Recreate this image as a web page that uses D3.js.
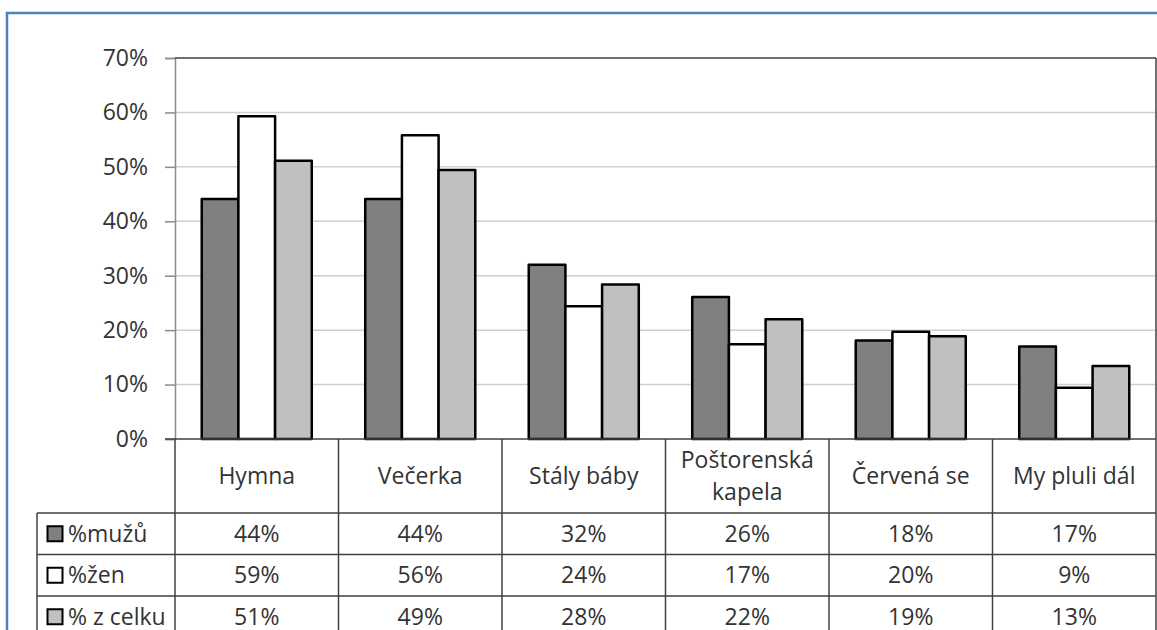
<!DOCTYPE html>
<html>
<head>
<meta charset="utf-8">
<script src="https://cdn.jsdelivr.net/npm/d3@7"></script>
<style>
  html, body { margin: 0; padding: 0; background: #fff; }
  svg { display: block; }
  text { font-family: "Open Sans", "DejaVu Sans", sans-serif; }
</style>
</head>
<body>
<script>
// ---- data ----
const categories = ["Hymna", "Večerka", "Stály báby", "Poštorenská kapela", "Červená se", "My pluli dál"];
const seriesNames = ["%mužů", "%žen", "% z celku"];
const men   = [0.441, 0.441, 0.320, 0.261, 0.181, 0.170];
const women = [0.593, 0.558, 0.244, 0.174, 0.197, 0.094];
const total = [0.511, 0.494, 0.284, 0.220, 0.189, 0.134];
const yTicks = [0, 0.1, 0.2, 0.3, 0.4, 0.5, 0.6, 0.7];
const seriesColors = ["#808080", "#ffffff", "#c0c0c0"];

const seriesValues = [men, women, total];

// ---- layout ----
const W = 1157, H = 630;
const plot = { left: 175, right: 1156, top: 58, bottom: 439 };
const table = { left: 37, catBottom: 513, rowH: 41.5 };
const fontSize = 23;
const textColor = "#333";

const svg = d3.select("body").append("svg").attr("width", W).attr("height", H);
svg.append("rect").attr("width", W).attr("height", H).attr("fill", "#fff");

// outer blue frame (cropped on right/bottom)
svg.append("rect")
  .attr("x", 7).attr("y", 13).attr("width", W + 20).attr("height", H + 20)
  .attr("fill", "none").attr("stroke", "#4f81bd").attr("stroke-width", 2.5);

const x = d3.scaleBand().domain(categories)
  .range([plot.left, plot.right]).paddingInner(0.327).paddingOuter(0.1635);
const xs = d3.scaleBand().domain(d3.range(seriesNames.length))
  .range([0, x.bandwidth()]).padding(0);
const y = d3.scaleLinear().domain([0, 0.7]).range([plot.bottom, plot.top]);
const step = x.step();

// gridlines
svg.append("g").selectAll("line").data(yTicks.filter(t => t > 0 && t < 0.7)).join("line")
  .attr("x1", plot.left).attr("x2", plot.right)
  .attr("y1", d => y(d)).attr("y2", d => y(d))
  .attr("stroke", "#cfcfcf").attr("stroke-width", 1.5);

// y axis
const yAxis = d3.axisLeft(y).tickValues(yTicks).tickFormat(d3.format(".0%"))
  .tickSize(10).tickPadding(17);
const gy = svg.append("g").attr("transform", `translate(${plot.left},0)`).call(yAxis);
gy.select(".domain").attr("stroke", "#8c8c8c").attr("stroke-width", 1.5);
gy.selectAll(".tick line").attr("stroke", "#8c8c8c").attr("stroke-width", 1.5);
gy.selectAll(".tick text").attr("font-size", fontSize).attr("fill", textColor)
  .attr("font-family", "'Open Sans', sans-serif");

// plot border top & right
svg.append("line").attr("x1", plot.left).attr("x2", plot.right)
  .attr("y1", plot.top).attr("y2", plot.top).attr("stroke", "#404040").attr("stroke-width", 1.5);

// bars
const groups = svg.append("g").selectAll("g").data(categories).join("g")
  .attr("transform", d => `translate(${x(d)},0)`);
groups.selectAll("rect").data((d, i) => seriesValues.map((s, k) => ({ k, v: s[i] }))).join("rect")
  .attr("x", d => xs(d.k)).attr("width", xs.bandwidth())
  .attr("y", d => y(d.v)).attr("height", d => y(0) - y(d.v))
  .attr("fill", d => seriesColors[d.k])
  .attr("stroke", "#000").attr("stroke-width", 2.5).attr("stroke-linejoin", "round");

// ---- data table ----
const lineColor = "#404040";
const rowY = i => table.catBottom + i * table.rowH;
const tg = svg.append("g");
// baseline (0%) axis line
tg.append("line").attr("x1", plot.left - 10).attr("x2", plot.right)
  .attr("y1", plot.bottom).attr("y2", plot.bottom).attr("stroke", lineColor).attr("stroke-width", 1.5);
// horizontal row lines
tg.selectAll("line.h").data(d3.range(seriesNames.length)).join("line").attr("class", "h")
  .attr("x1", table.left).attr("x2", plot.right)
  .attr("y1", d => rowY(d)).attr("y2", d => rowY(d))
  .attr("stroke", lineColor).attr("stroke-width", 1.5);
// vertical lines at band boundaries
const bounds = categories.map(c => x(c) - (step - x.bandwidth()) / 2);
tg.selectAll("line.v").data(bounds).join("line").attr("class", "v")
  .attr("x1", d => d).attr("x2", d => d)
  .attr("y1", plot.bottom).attr("y2", H + 5)
  .attr("stroke", lineColor).attr("stroke-width", 1.5);
// right edge
tg.append("line").attr("x1", plot.right).attr("x2", plot.right)
  .attr("y1", plot.top).attr("y2", H + 5).attr("stroke", lineColor).attr("stroke-width", 1.5);
// left edge of legend column
tg.append("line").attr("x1", table.left).attr("x2", table.left)
  .attr("y1", table.catBottom).attr("y2", H + 5).attr("stroke", lineColor).attr("stroke-width", 1.5);

// category labels (wrapped)
const catMid = (plot.bottom + table.catBottom) / 2;
categories.forEach(c => {
  const cx = x(c) + x.bandwidth() / 2;
  const t = tg.append("text").attr("x", cx).attr("text-anchor", "middle")
    .attr("font-size", fontSize).attr("fill", textColor).text(c);
  let lines = [c];
  if (t.node().getComputedTextLength() > step - 16 && c.includes(" ")) {
    const idx = c.lastIndexOf(" ");
    lines = [c.slice(0, idx), c.slice(idx + 1)];
  }
  t.text(null);
  const lh = 32;
  lines.forEach((ln, j) => {
    t.append("tspan").attr("x", cx)
      .attr("y", catMid + (j - (lines.length - 1) / 2) * lh)
      .attr("dy", "0.35em").text(ln);
  });
});

// value rows
const fmt = d3.format(".0%");
seriesNames.forEach((name, k) => {
  const cy = rowY(k) + table.rowH / 2;
  tg.append("rect").attr("x", 47.5).attr("y", cy - 7.5).attr("width", 15).attr("height", 15)
    .attr("fill", seriesColors[k]).attr("stroke", "#000").attr("stroke-width", 2);
  tg.append("text").attr("x", 68).attr("y", cy).attr("dy", "0.35em")
    .attr("font-size", fontSize).attr("fill", textColor).text(name);
  tg.selectAll(null).data(categories).join("text")
    .attr("x", d => x(d) + x.bandwidth() / 2).attr("y", cy).attr("dy", "0.35em")
    .attr("text-anchor", "middle").attr("font-size", fontSize).attr("fill", textColor)
    .text((d, i) => fmt(seriesValues[k][i]));
});
</script>
</body>
</html>
